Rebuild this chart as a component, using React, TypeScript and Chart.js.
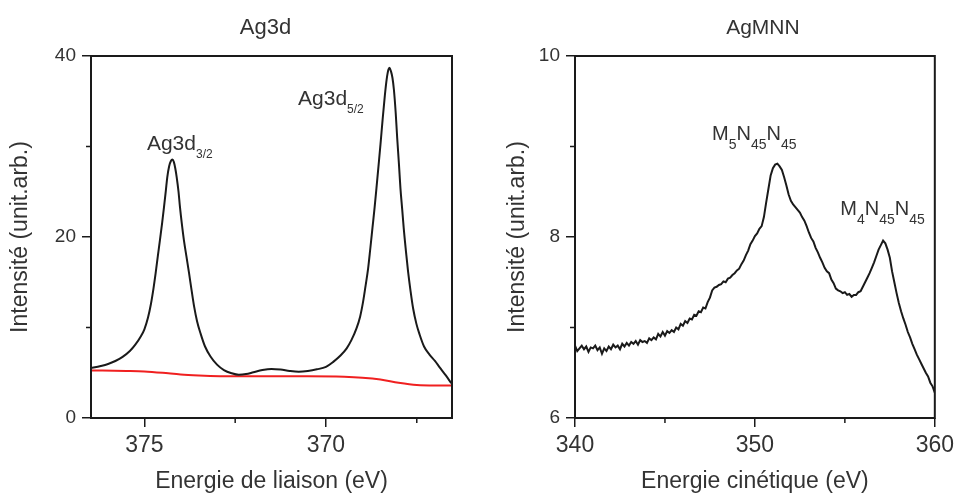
import React, { useEffect, useRef } from 'react';
import { Chart, registerables } from 'chart.js';

Chart.register(...registerables);

// ---------- Ag3d (binding energy, eV) ----------
const ag3dEnergy = [
  376.5, 376.2, 376.0, 375.8, 375.6, 375.4, 375.25, 375.1, 375.0, 374.9, 374.82, 374.75, 374.69, 374.63,
  374.57, 374.51, 374.46, 374.41, 374.37, 374.32, 374.27, 374.23, 374.19, 374.15, 374.11, 374.06, 374.02,
  373.97, 373.91, 373.84, 373.77, 373.7, 373.63, 373.55, 373.45, 373.33, 373.18, 373.0, 372.81, 372.6,
  372.4, 372.2, 372.0, 371.75, 371.5, 371.25, 371.0, 370.75, 370.5, 370.25, 370.0, 369.8, 369.6, 369.43,
  369.3, 369.16, 369.06, 368.98, 368.91, 368.84, 368.78, 368.72, 368.66, 368.61, 368.55, 368.5, 368.44,
  368.38, 368.33, 368.28, 368.25, 368.21, 368.17, 368.13, 368.08, 368.04, 367.99, 367.95, 367.9, 367.86,
  367.8, 367.74, 367.67, 367.6, 367.51, 367.42, 367.3, 367.15, 367.0, 366.87, 366.7, 366.55,
];
const ag3dIntensity = [
  5.5, 5.75, 5.97, 6.3, 6.75, 7.4, 8.1, 9.0, 9.8, 11.1, 12.6, 14.3, 16.0, 17.9,
  19.7, 21.6, 23.3, 25.1, 26.6, 27.8, 28.4, 28.55, 28.3, 27.6, 26.6, 25.0, 23.3,
  21.5, 19.6, 17.8, 16.0, 14.1, 12.3, 10.7, 9.3, 7.9, 6.8, 5.9, 5.3, 4.95,
  4.78, 4.85, 5.05, 5.3, 5.42, 5.35, 5.2, 5.12, 5.2, 5.38, 5.65, 6.2, 6.9, 7.7,
  8.6, 9.9, 11.2, 12.8, 14.6, 16.5, 18.7, 21.0, 23.3, 25.4, 28.0, 30.2, 33.0,
  35.6, 37.4, 38.5, 38.7, 38.3, 37.6, 36.3, 33.7, 31.0, 28.0, 25.4, 23.0, 21.0,
  18.5, 16.2, 14.0, 12.1, 10.4, 9.2, 7.9, 7.0, 6.3, 5.6, 4.7, 3.85,
];
const ag3dBgEnergy = [376.5, 375.5, 375.0, 374.5, 374.0, 373.5, 372.5, 371.5, 370.5, 369.5, 369.0, 368.5, 368.0, 367.5, 367.0, 366.55];
const ag3dBgIntensity = [5.25, 5.2, 5.15, 5.0, 4.8, 4.7, 4.6, 4.6, 4.6, 4.55, 4.45, 4.25, 3.9, 3.65, 3.6, 3.6];

const ag3dXMin = 366.53;
const ag3dXMax = 376.47;
const ag3dXTicks = [375, 370];
const ag3dXMinor = [372.5, 367.5];
const ag3dYTicks = [0, 20, 40];
const ag3dYMinor = [10, 30];

// ---------- AgMNN (kinetic energy, eV) ----------
const mnnEnergy = [
  340.0, 340.125, 340.25, 340.375, 340.5, 340.625, 340.75, 340.875,
  341.0, 341.125, 341.25, 341.375, 341.5, 341.625, 341.75, 341.875,
  342.0, 342.125, 342.25, 342.375, 342.5, 342.625, 342.75, 342.875,
  343.0, 343.125, 343.25, 343.375, 343.5, 343.625, 343.75, 343.875,
  344.0, 344.125, 344.25, 344.375, 344.5, 344.625, 344.75, 344.875,
  345.0, 345.125, 345.25, 345.375, 345.5, 345.625, 345.75, 345.875,
  346.0, 346.125, 346.25, 346.375, 346.5, 346.625, 346.75, 346.875,
  347.0, 347.125, 347.25, 347.375, 347.5, 347.625, 347.75, 347.875,
  348.0, 348.125, 348.25, 348.375, 348.5, 348.625, 348.75, 348.875,
  349.0, 349.125, 349.25, 349.375, 349.5, 349.625, 349.75, 349.875,
  350.0, 350.125, 350.25, 350.375, 350.5, 350.625, 350.75, 350.875,
  351.0, 351.125, 351.25, 351.375, 351.5, 351.625, 351.75, 351.875,
  352.0, 352.125, 352.25, 352.375, 352.5, 352.625, 352.75, 352.875,
  353.0, 353.125, 353.25, 353.375, 353.5, 353.625, 353.75, 353.875,
  354.0, 354.125, 354.25, 354.375, 354.5, 354.625, 354.75, 354.875,
  355.0, 355.125, 355.25, 355.375, 355.5, 355.625, 355.75, 355.875,
  356.0, 356.125, 356.25, 356.375, 356.5, 356.625, 356.75, 356.875,
  357.0, 357.125, 357.25, 357.375, 357.5, 357.625, 357.75, 357.875,
  358.0, 358.125, 358.25, 358.375, 358.5, 358.625, 358.75, 358.875,
  359.0, 359.125, 359.25, 359.375, 359.5, 359.625, 359.75, 359.875,
  360.0,
];
const mnnIntensity = [
  6.8, 6.74, 6.77, 6.8, 6.76, 6.79, 6.73, 6.78,
  6.77, 6.8, 6.75, 6.78, 6.71, 6.77, 6.74, 6.79,
  6.76, 6.81, 6.78, 6.8, 6.76, 6.82, 6.79, 6.83,
  6.8, 6.84, 6.82, 6.85, 6.81, 6.86, 6.84, 6.85,
  6.83, 6.88, 6.86, 6.89, 6.87, 6.93, 6.9, 6.95,
  6.91, 6.96, 6.94, 6.97, 6.95, 7.0, 6.98, 7.04,
  7.02, 7.07, 7.05, 7.1, 7.09, 7.14, 7.13, 7.18,
  7.17, 7.22, 7.21, 7.28, 7.33, 7.41, 7.44, 7.45,
  7.47, 7.48, 7.51, 7.5, 7.54, 7.55, 7.58, 7.6,
  7.63, 7.65, 7.7, 7.74, 7.8, 7.85, 7.92, 7.96,
  8.01, 8.04, 8.09, 8.12, 8.22, 8.38, 8.53, 8.68,
  8.76, 8.8, 8.81, 8.78, 8.74, 8.66, 8.57, 8.47,
  8.4, 8.36, 8.33, 8.3, 8.27, 8.22, 8.18, 8.12,
  8.05, 7.99, 7.95, 7.88, 7.83, 7.77, 7.72, 7.66,
  7.62, 7.6, 7.53, 7.49, 7.43, 7.41, 7.4, 7.38,
  7.39, 7.36, 7.37, 7.34, 7.36, 7.36, 7.39, 7.4,
  7.45, 7.5, 7.55, 7.6, 7.66, 7.72, 7.79, 7.86,
  7.91, 7.96, 7.93, 7.86, 7.77, 7.62, 7.5, 7.38,
  7.27, 7.18, 7.1, 7.03, 6.95, 6.89, 6.82, 6.76,
  6.7, 6.65, 6.6, 6.55, 6.5, 6.46, 6.39, 6.35,
  6.28,
];
const mnnXMin = 340;
const mnnXMax = 360;
const mnnXTicks = [340, 350, 360];
const mnnXMinor = [345, 355];
const mnnYTicks = [6, 8, 10];
const mnnYMinor = [7, 9];

// ---------- annotations ----------
type Part = [string, boolean];
const ag3dLabelParts: Part[][] = [
  [['Ag3d', false], ['3/2', true]],
  [['Ag3d', false], ['5/2', true]],
];
const ag3dLabelX = [374.93, 370.77];
const ag3dLabelY = [29.6, 34.6];
const mnnLabelParts: Part[][] = [
  [['M', false], ['5', true], ['N', false], ['45', true], ['N', false], ['45', true]],
  [['M', false], ['4', true], ['N', false], ['45', true], ['N', false], ['45', true]],
];
const mnnLabelX = [347.62, 354.75];
const mnnLabelY = [9.07, 8.24];

const FONT = '"Liberation Sans", Arial, Helvetica, sans-serif';
const TEXT = '#333';
const INK = '#1a1a1a';

function makeDecor(cfg: {
  title: string; titleDx: number; titleSize: number;
  xMinor: number[]; yMinor: number[];
  parts: Part[][]; lx: number[]; ly: number[];
  mainSize: number; subSize: number; subDy: number;
}) {
  return {
    id: 'decor',
    afterDatasetsDraw(chart: any) {
      const { ctx, chartArea: a, scales } = chart;
      ctx.save();
      ctx.strokeStyle = INK;
      ctx.lineWidth = 2;
      ctx.strokeRect(a.left, a.top, a.right - a.left, a.bottom - a.top);
      ctx.lineWidth = 1.5;
      ctx.beginPath();
      cfg.xMinor.forEach((v) => {
        const px = scales.x.getPixelForValue(v);
        ctx.moveTo(px, a.bottom);
        ctx.lineTo(px, a.bottom + 5);
      });
      cfg.yMinor.forEach((v) => {
        const py = scales.y.getPixelForValue(v);
        ctx.moveTo(a.left, py);
        ctx.lineTo(a.left - 5, py);
      });
      ctx.stroke();

      ctx.fillStyle = TEXT;
      ctx.textBaseline = 'alphabetic';
      ctx.textAlign = 'center';
      ctx.font = `${cfg.titleSize}px ${FONT}`;
      ctx.fillText(cfg.title, (a.left + a.right) / 2 + cfg.titleDx, 33.5);

      ctx.textAlign = 'left';
      cfg.parts.forEach((parts, i) => {
        let px = scales.x.getPixelForValue(cfg.lx[i]);
        const py = scales.y.getPixelForValue(cfg.ly[i]);
        parts.forEach(([t, sub]) => {
          ctx.font = `${sub ? cfg.subSize : cfg.mainSize}px ${FONT}`;
          ctx.fillText(t, px, sub ? py + cfg.subDy : py);
          px += ctx.measureText(t).width;
        });
      });
      ctx.restore();
    },
  };
}

function makeScales(o: {
  xMin: number; xMax: number; xTicks: number[]; reverse: boolean; xTitle: string;
  yMin: number; yMax: number; yTicks: number[]; yWidth: number; yTitlePad: number;
}) {
  const grid = {
    display: true,
    drawOnChartArea: false,
    drawTicks: true,
    tickLength: 9,
    tickColor: INK,
    lineWidth: 1.5,
    color: INK,
  };
  return {
    x: {
      type: 'linear',
      min: o.xMin,
      max: o.xMax,
      reverse: o.reverse,
      grid,
      border: { display: false },
      afterBuildTicks: (s: any) => {
        s.ticks = o.xTicks.map((v) => ({ value: v }));
      },
      afterFit: (s: any) => {
        s.height = 77;
      },
      ticks: {
        color: TEXT,
        padding: 5,
        maxRotation: 0,
        font: { family: FONT, size: 23 },
        callback: (v: any) => String(v),
      },
      title: {
        display: true,
        text: o.xTitle,
        color: TEXT,
        font: { family: FONT, size: 23 },
        padding: { top: 0, bottom: 0 },
      },
    },
    y: {
      type: 'linear',
      min: o.yMin,
      max: o.yMax,
      grid,
      border: { display: false },
      afterBuildTicks: (s: any) => {
        s.ticks = o.yTicks.map((v) => ({ value: v }));
      },
      afterFit: (s: any) => {
        s.width = o.yWidth;
      },
      ticks: {
        color: TEXT,
        padding: 6,
        font: { family: FONT, size: 19 },
        callback: (v: any) => String(v),
      },
      title: {
        display: true,
        text: 'Intensité (unit.arb.)',
        color: TEXT,
        font: { family: FONT, size: 23 },
        padding: { top: o.yTitlePad, bottom: 0 },
      },
    },
  };
}

export default function App() {
  const leftRef = useRef<HTMLCanvasElement>(null);
  const rightRef = useRef<HTMLCanvasElement>(null);

  useEffect(() => {
    document.body.style.margin = '0';
    const left = new Chart(leftRef.current as HTMLCanvasElement, {
      type: 'line',
      data: {
        datasets: [
          {
            data: ag3dEnergy.map((x, i) => ({ x, y: ag3dIntensity[i] })),
            borderColor: INK,
            borderWidth: 2,
            pointRadius: 0,
            cubicInterpolationMode: 'monotone',
            fill: false,
          },
          {
            data: ag3dBgEnergy.map((x, i) => ({ x, y: ag3dBgIntensity[i] })),
            borderColor: '#f02020',
            borderWidth: 2,
            pointRadius: 0,
            cubicInterpolationMode: 'monotone',
            fill: false,
          },
        ],
      },
      options: {
        responsive: false,
        animation: false,
        layout: { padding: { left: 0, right: 28, top: 56, bottom: 0 } },
        plugins: { legend: { display: false }, tooltip: { enabled: false }, title: { display: false } },
        scales: makeScales({
          xMin: ag3dXMin, xMax: ag3dXMax, xTicks: ag3dXTicks, reverse: true,
          xTitle: 'Energie de liaison (eV)',
          yMin: 0, yMax: 40, yTicks: ag3dYTicks, yWidth: 91, yTitlePad: 7,
        }) as any,
      },
      plugins: [
        makeDecor({
          title: 'Ag3d', titleDx: -6, titleSize: 22,
          xMinor: ag3dXMinor, yMinor: ag3dYMinor,
          parts: ag3dLabelParts, lx: ag3dLabelX, ly: ag3dLabelY,
          mainSize: 21, subSize: 12, subDy: 8,
        }),
      ],
    } as any);

    const right = new Chart(rightRef.current as HTMLCanvasElement, {
      type: 'line',
      data: {
        datasets: [
          {
            data: mnnEnergy.map((x, i) => ({ x, y: mnnIntensity[i] })),
            borderColor: INK,
            borderWidth: 2,
            pointRadius: 0,
            tension: 0,
            fill: false,
          },
        ],
      },
      options: {
        responsive: false,
        animation: false,
        layout: { padding: { left: 0, right: 22, top: 56, bottom: 0 } },
        plugins: { legend: { display: false }, tooltip: { enabled: false }, title: { display: false } },
        scales: makeScales({
          xMin: mnnXMin, xMax: mnnXMax, xTicks: mnnXTicks, reverse: false,
          xTitle: 'Energie cinétique (eV)',
          yMin: 6, yMax: 10, yTicks: mnnYTicks, yWidth: 95, yTitlePad: 24,
        }) as any,
      },
      plugins: [
        makeDecor({
          title: 'AgMNN', titleDx: 8, titleSize: 21,
          xMinor: mnnXMinor, yMinor: mnnYMinor,
          parts: mnnLabelParts, lx: mnnLabelX, ly: mnnLabelY,
          mainSize: 20, subSize: 14, subDy: 9,
        }),
      ],
    } as any);

    return () => {
      left.destroy();
      right.destroy();
    };
  }, []);

  return (
    <div style={{ position: 'fixed', left: 0, top: 0, width: 959, height: 495, background: '#fff' }}>
      <canvas ref={leftRef} width={480} height={495} style={{ position: 'absolute', left: 0, top: 0, display: 'block' }} />
      <canvas ref={rightRef} width={479} height={495} style={{ position: 'absolute', left: 480, top: 0, display: 'block' }} />
    </div>
  );
}
